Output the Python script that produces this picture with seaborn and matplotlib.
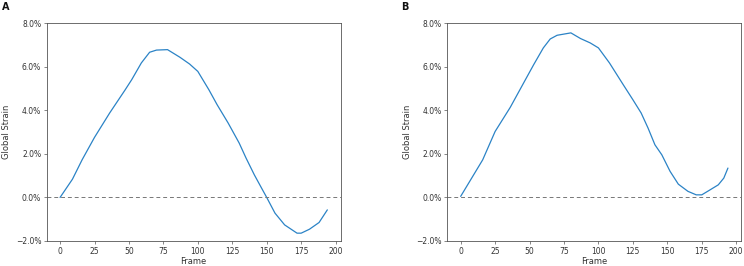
import matplotlib
matplotlib.use("Agg")
import matplotlib.pyplot as plt
import seaborn as sns
import pandas as pd
from matplotlib.ticker import PercentFormatter

frames_a = [0, 9, 16, 25, 36, 47, 52, 59, 65, 70, 78, 87, 94, 100, 108, 114, 122,
            130, 135, 141, 146, 150, 156, 163, 172, 175, 181, 188, 194]
strain_a = [0.00, 0.84, 1.73, 2.76, 3.88, 4.92, 5.41, 6.18, 6.67, 6.77, 6.79, 6.44,
            6.13, 5.79, 4.95, 4.26, 3.42, 2.50, 1.81, 1.04, 0.46, 0.00, -0.72, -1.26,
            -1.64, -1.64, -1.46, -1.15, -0.57]

frames_b = [0, 8, 16, 25, 36, 47, 53, 60, 65, 70, 80, 87, 94, 100, 108, 118, 125,
            131, 136, 141, 146, 152, 158, 165, 171, 175, 180, 187, 191, 194]
strain_b = [0.05, 0.89, 1.73, 3.03, 4.14, 5.41, 6.10, 6.87, 7.28, 7.45, 7.56, 7.30,
            7.10, 6.87, 6.18, 5.18, 4.49, 3.88, 3.19, 2.42, 1.96, 1.20, 0.61, 0.28,
            0.12, 0.12, 0.31, 0.58, 0.89, 1.35]

panel_labels = ["A", "B"]
xlabel = "Frame"
ylabel = "Global Strain"
yticks = [-2, 0, 2, 4, 6, 8]
xticks = [0, 25, 50, 75, 100, 125, 150, 175, 200]

sns.set_style("white")
plt.rcParams["font.family"] = ["DejaVu Sans"]

fig = plt.figure(figsize=(7.44, 2.66), dpi=100)
W, H = 744, 266
axes_px = [(46.7, 340.7), (447.3, 741.3)]
top_px, bot_px = 23.3, 241.0

text_col = "#333333"
spine_col = "#555555"

for i, ((l, r), fr, st, lab) in enumerate(zip(axes_px, [frames_a, frames_b],
                                               [strain_a, strain_b], panel_labels)):
    ax = fig.add_axes([l / W, 1 - bot_px / H, (r - l) / W, (bot_px - top_px) / H])
    df = pd.DataFrame({"Frame": fr, "Strain": st})
    sns.lineplot(data=df, x="Frame", y="Strain", ax=ax, color="#2b83c6", lw=0.9)
    ax.axhline(0, color="#777777", ls=(0, (4, 3)), lw=0.7)
    ax.set_xlim(-9.7, 203.7)
    ax.set_ylim(-2, 8)
    ax.set_yticks(yticks)
    ax.set_xticks(xticks)
    ax.yaxis.set_major_formatter(PercentFormatter(xmax=100, decimals=1))
    ax.set_xlabel(xlabel, fontsize=6, color=text_col, labelpad=1)
    ax.set_ylabel(ylabel, fontsize=6, color=text_col, labelpad=3)
    ax.tick_params(axis="both", labelsize=5.5, colors=text_col, length=2,
                   width=0.5, pad=2, left=True, bottom=True, color=spine_col)
    for s in ax.spines.values():
        s.set_color(spine_col)
        s.set_linewidth(0.6)
    fig.text((2 if i == 0 else 401) / W, 1 - 2 / H, lab, fontsize=7,
             fontweight="bold", color="#111111", va="top", ha="left")

fig.savefig("out.png", dpi=100)
